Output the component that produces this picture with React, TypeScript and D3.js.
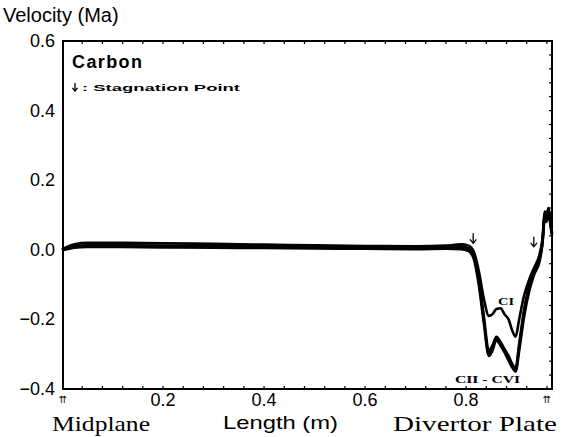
import * as d3 from "d3"

// distance along the field line (m)
const lengths = [0, 0.01, 0.025, 0.05, 0.1, 0.2, 0.3, 0.4, 0.5, 0.6, 0.7, 0.76, 0.79, 0.805, 0.815, 0.825, 0.835, 0.845, 0.852, 0.86, 0.868, 0.876, 0.884, 0.892, 0.898, 0.905, 0.915, 0.925, 0.935, 0.945, 0.951, 0.956, 0.959, 0.963, 0.967, 0.97]

// Mach number per charge state
const ci = [0, 0.008, 0.016, 0.02, 0.02, 0.019, 0.017, 0.015, 0.013, 0.011, 0.01, 0.012, 0.016, 0.012, -0.005, -0.06, -0.14, -0.19, -0.185, -0.17, -0.168, -0.185, -0.2, -0.235, -0.25, -0.2, -0.13, -0.085, -0.05, -0.015, 0.03, 0.11, 0.095, 0.12, 0.08, 0.05]
const cii = [0, 0.004, 0.01, 0.013, 0.013, 0.012, 0.011, 0.01, 0.009, 0.008, 0.007, 0.006, 0.004, 0, -0.02, -0.09, -0.2, -0.3, -0.28, -0.255, -0.27, -0.29, -0.31, -0.335, -0.345, -0.28, -0.18, -0.11, -0.065, -0.03, 0.02, 0.1, 0.085, 0.115, 0.075, 0.045]
const ciii = [0, 0.003, 0.008, 0.01, 0.01, 0.009, 0.008, 0.007, 0.006, 0.005, 0.005, 0.008, 0.01, 0.004, -0.015, -0.08, -0.19, -0.29, -0.275, -0.25, -0.265, -0.285, -0.305, -0.33, -0.34, -0.27, -0.17, -0.1, -0.058, -0.025, 0.025, 0.105, 0.09, 0.118, 0.078, 0.048]
const civToCvi = [0, 0.002, 0.006, 0.008, 0.008, 0.007, 0.006, 0.005, 0.004, 0.003, 0.002, 0.003, 0.002, -0.004, -0.025, -0.1, -0.21, -0.305, -0.29, -0.26, -0.275, -0.295, -0.318, -0.34, -0.35, -0.29, -0.19, -0.118, -0.07, -0.035, 0.015, 0.095, 0.08, 0.11, 0.07, 0.04]

const series = [ci, cii, ciii, civToCvi]

const xTicks = [0.2, 0.4, 0.6, 0.8]
const yTicks = [0.6, 0.4, 0.2, 0.0, -0.2, -0.4]
// stagnation point markers: [length, velocity at arrow tip]
const stagnationPoints = [[0.814, 0.01], [0.934, 0.0]]

// small down arrow drawn as a path (the glyph falls back to an emoji font)
function DownArrow({ cx, tip, size = 10 }: { cx: number; tip: number; size?: number }) {
    const h = size * 0.4
    return (
        <g stroke="#000" strokeWidth={1.3} fill="none">
            <line x1={cx} x2={cx} y1={tip - size} y2={tip} />
            <path d={`M${cx - h * 0.8},${tip - h} L${cx},${tip} L${cx + h * 0.8},${tip - h}`} />
        </g>
    )
}

export default function App() {
    const width = 570
    const height = 437
    const margin = { top: 41, right: 18, bottom: 48, left: 63 }

    const x = d3.scaleLinear().domain([0, 0.97]).range([62, width - margin.right])
    const y = d3.scaleLinear().domain([-0.4, 0.6]).range([height - margin.bottom, margin.top])

    const line = d3
        .line<number>()
        .x((_, i) => x(lengths[i]))
        .y((d) => y(d))
        .curve(d3.curveMonotoneX)

    const minorX = d3.range(0.04, 0.97, 0.04)
    const minorY = d3.range(-0.4, 0.6, 0.04)
    const fmt = d3.format(".1f")
    const left = margin.left
    const right = width - margin.right
    const top = margin.top
    const bottom = height - margin.bottom

    return (
        <svg width={width} height={height} style={{ position: "absolute", left: 0, top: 0, background: "#fff" }}
            fontFamily="Liberation Sans, Arial, sans-serif">
            <text x={3} y={22} fontSize={20}>Velocity (Ma)</text>

            {yTicks.map((t) => (
                <text key={t} x={55} y={y(t)} fontSize={18} textAnchor="end" dominantBaseline="central">
                    {fmt(t)}
                </text>
            ))}

            {minorX.map((t) => (
                <g key={"mx" + t}>
                    <line x1={x(t)} x2={x(t)} y1={bottom} y2={bottom - 3} stroke="#000" strokeWidth={1.2} />
                    <line x1={x(t)} x2={x(t)} y1={top} y2={top + 3} stroke="#000" strokeWidth={1.2} />
                </g>
            ))}
            {minorY.map((t) => (
                <line key={"my" + t} x1={right} x2={right - 3} y1={y(t)} y2={y(t)} stroke="#000" strokeWidth={1.2} />
            ))}

            {series.map((s, i) => (
                <path key={i} d={line(s) ?? ""} fill="none" stroke="#000" strokeWidth={2.6} strokeLinejoin="round" />
            ))}

            <rect x={left} y={top} width={right - left} height={bottom - top} fill="none" stroke="#000" strokeWidth={2} />

            <text x={72} y={68} fontSize={18} fontWeight="bold" letterSpacing={1.4}>Carbon</text>
            <DownArrow cx={75} tip={91} size={8} />
            <text x={82} y={91} fontSize={9.5} fontWeight="bold" textLength={158} lengthAdjust="spacingAndGlyphs">
                : Stagnation Point
            </text>

            {stagnationPoints.map(([p, v]) => (
                <DownArrow key={p} cx={x(p)} tip={y(v) - 3} size={10} />
            ))}

            <text x={498} y={305} fontSize={11} fontWeight="bold" fontFamily="Liberation Serif, serif"
                textLength={16} lengthAdjust="spacingAndGlyphs">CI</text>
            <text x={455} y={383} fontSize={11} fontWeight="bold" fontFamily="Liberation Serif, serif"
                textLength={65} lengthAdjust="spacingAndGlyphs">CII - CVI</text>

            {xTicks.map((t) => (
                <text key={t} x={x(t)} y={406} fontSize={18} textAnchor="middle">{fmt(t)}</text>
            ))}

            <text x={x(0) + 1} y={403} fontSize={10} textAnchor="middle" fontFamily="DejaVu Sans, sans-serif">⇈</text>
            <text x={x(0.96)} y={403} fontSize={10} textAnchor="middle" fontFamily="DejaVu Sans, sans-serif">⇈</text>

            <text x={223} y={429} fontSize={19} textLength={115} lengthAdjust="spacingAndGlyphs">Length (m)</text>
            <text x={52} y={431} fontSize={21} fontFamily="Liberation Serif, serif" textLength={98}
                lengthAdjust="spacingAndGlyphs">Midplane</text>
            <text x={393} y={431} fontSize={21} fontFamily="Liberation Serif, serif" textLength={164}
                lengthAdjust="spacingAndGlyphs">Divertor Plate</text>
        </svg>
    )
}
